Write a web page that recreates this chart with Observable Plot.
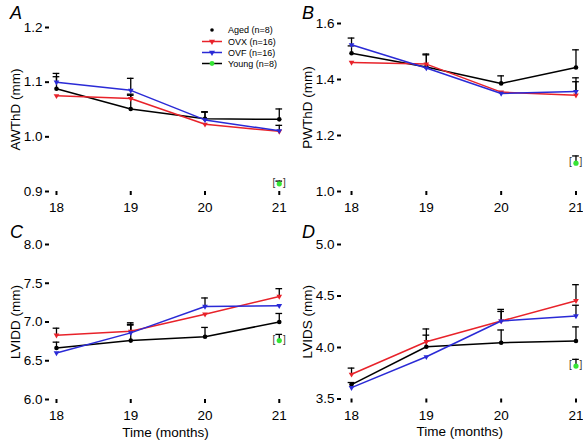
<!DOCTYPE html>
<html>
<head>
<meta charset="utf-8">
<script src="https://cdn.jsdelivr.net/npm/d3@7"></script>
<script src="https://cdn.jsdelivr.net/npm/@observablehq/plot@0.6"></script>
<style>
  html, body { margin: 0; padding: 0; background: #fff; }
  #root { position: relative; width: 583px; height: 442px; overflow: hidden; font-family: "Liberation Sans", Arial, sans-serif; }
  .panel { position: absolute; }
  .letter { position: absolute; font-style: italic; font-size: 18px; line-height: 1; color: #000; }
  #legend { position: absolute; left: 0; top: 0; }
</style>
</head>
<body>
<div id="root"></div>
<script>
// ---- data ----
const months = [18, 19, 20, 21];
const seriesNames = ["Aged (n=8)", "OVX (n=16)", "OVF (n=16)", "Young (n=8)"];
const seriesColors = ["#000000", "#e8222a", "#2a2ad6", "#35e535"];

// A: AWThD (mm)
const awthdAged = [1.088, 1.051, 1.033, 1.032];
const awthdAgedTop = [1.110, 1.076, 1.046, 1.051];
const awthdOVX = [1.075, 1.070, 1.023, 1.010];
const awthdOVXTop = [null, 1.078, null, null];
const awthdOVF = [1.100, 1.085, 1.031, 1.011];
const awthdOVFTop = [1.116, 1.107, 1.045, 1.021];
const awthdYoung = 0.914, awthdYoungTop = 0.919;
const awthdTicks = [0.9, 1.0, 1.1, 1.2];

// B: PWThD (mm)
const pwthdAged = [1.494, 1.445, 1.386, 1.443];
const pwthdAgedTop = [1.520, 1.488, 1.413, 1.506];
const pwthdOVX = [1.461, 1.455, 1.355, 1.344];
const pwthdOVXTop = [null, 1.491, null, 1.392];
const pwthdOVF = [1.524, 1.441, 1.350, 1.357];
const pwthdOVFTop = [1.548, null, null, 1.406];
const pwthdYoung = 1.101, pwthdYoungTop = 1.127;
const pwthdTicks = [1.0, 1.2, 1.4, 1.6];

// C: LVIDD (mm)
const lviddAged = [6.664, 6.76, 6.81, 7.00];
const lviddAgedTop = [6.74, 6.96, 6.93, 7.11];
const lviddOVX = [6.83, 6.88, 7.10, 7.33];
const lviddOVXTop = [6.92, 6.99, null, 7.43];
const lviddOVF = [6.60, 6.86, 7.20, 7.21];
const lviddOVFTop = [null, 6.97, 7.31, null];
const lviddYoung = 6.76, lviddYoungTop = 6.84;
const lviddTicks = [6.0, 6.5, 7.0, 7.5, 8.0];

// D: LVIDS (mm)
const lvidsAged = [3.64, 4.007, 4.046, 4.063];
const lvidsAgedTop = [3.66, 4.12, 4.17, 4.20];
const lvidsOVX = [3.74, 4.056, 4.257, 4.454];
const lvidsOVXTop = [3.80, 4.18, 4.37, 4.61];
const lvidsOVF = [3.61, 3.91, 4.257, 4.306];
const lvidsOVFTop = [null, null, 4.35, 4.41];
const lvidsYoung = 3.82, lvidsYoungTop = 3.885;
const lvidsTicks = [3.5, 4.0, 4.5, 5.0];

// ---- helpers ----
function rows(vals, tops) {
  return months.map((m, i) => ({x: m, y: vals[i], top: tops[i]}));
}
const fmt = d3.format(".1f");

function panel(cfg) {
  const aged = rows(cfg.aged, cfg.agedTop);
  const ovx = rows(cfg.ovx, cfg.ovxTop);
  const ovf = rows(cfg.ovf, cfg.ovfTop);
  const young = [{x: months[months.length - 1], y: cfg.young, top: cfg.youngTop}];
  const err = [...aged, ...ovx, ...ovf, ...young].filter(d => d.top != null);
  const capW = 0.045;
  const plot = Plot.plot({
    width: cfg.width,
    height: cfg.height,
    marginLeft: cfg.mL,
    marginRight: cfg.mR,
    marginTop: cfg.mT,
    marginBottom: cfg.mB,
    style: {fontFamily: "'Liberation Sans', Arial, sans-serif", fontSize: "13.5px", color: "#000", background: "transparent", overflow: "visible"},
    x: {domain: cfg.xDomain},
    y: {domain: [cfg.yTicks[0], cfg.yTicks[cfg.yTicks.length - 1]]},
    marks: [
      Plot.axisX({ticks: months, tickFormat: d => String(d), tickSize: 4, tickPadding: 7, line: true, strokeWidth: 2,
        label: cfg.xLabel, labelAnchor: "center", labelOffset: 37, labelArrow: false}),
      Plot.axisY({ticks: cfg.yTicks, tickFormat: fmt, tickSize: 4, tickPadding: 3, line: true, strokeWidth: 2,
        label: cfg.yLabel, labelAnchor: "center", labelOffset: cfg.labelOffset, labelArrow: false}),
      // error bars (upper only)
      Plot.ruleX(err, {x: "x", y1: "y", y2: "top", stroke: "#000", strokeWidth: 1.3}),
      Plot.ruleY(err, {y: "top", x1: d => d.x - capW, x2: d => d.x + capW, stroke: "#000", strokeWidth: 1.3}),
      // lines
      Plot.line(aged, {x: "x", y: "y", stroke: seriesColors[0], strokeWidth: 1.5}),
      Plot.dot(aged, {x: "x", y: "y", r: 2.3, fill: seriesColors[0]}),
      Plot.line(ovx, {x: "x", y: "y", stroke: seriesColors[1], strokeWidth: 1.5}),
      Plot.dot(ovx, {x: "x", y: "y", r: 2.1, symbol: "triangle", rotate: 180, fill: seriesColors[1]}),
      Plot.line(ovf, {x: "x", y: "y", stroke: seriesColors[2], strokeWidth: 1.5}),
      Plot.dot(ovf, {x: "x", y: "y", r: 2.1, symbol: "triangle", rotate: 180, fill: seriesColors[2]}),
      // young
      Plot.dot(young, {x: "x", y: "y", r: 2.6, fill: seriesColors[3]}),
      Plot.text(young, {x: "x", y: "y", text: () => "[", dx: -5.5, dy: -1, fontSize: 10, fill: "#333"}),
      Plot.text(young, {x: "x", y: "y", text: () => "]", dx: 5, dy: -1, fontSize: 10, fill: "#333"})
    ]
  });
  const div = document.createElement("div");
  div.className = "panel";
  div.style.left = cfg.left + "px";
  div.style.top = cfg.top + "px";
  div.appendChild(plot);
  document.getElementById("root").appendChild(div);
}

const xDomLeft = [17.906, 21.03];
const xDomRight = [17.866, 21.027];

panel({left: 0, top: 0, width: 290, height: 220, mL: 49, mR: 9, mT: 27, mB: 29, xDomain: xDomLeft,
  yTicks: awthdTicks, yLabel: "AWThD (mm)", xLabel: null, labelOffset: 39,
  aged: awthdAged, agedTop: awthdAgedTop, ovx: awthdOVX, ovxTop: awthdOVXTop, ovf: awthdOVF, ovfTop: awthdOVFTop,
  young: awthdYoung, youngTop: awthdYoungTop});
panel({left: 290, top: 0, width: 293, height: 220, mL: 51, mR: 5.5, mT: 23, mB: 29, xDomain: xDomRight,
  yTicks: pwthdTicks, yLabel: "PWThD (mm)", xLabel: null, labelOffset: 39,
  aged: pwthdAged, agedTop: pwthdAgedTop, ovx: pwthdOVX, ovxTop: pwthdOVXTop, ovf: pwthdOVF, ovfTop: pwthdOVFTop,
  young: pwthdYoung, youngTop: pwthdYoungTop});
panel({left: 0, top: 220, width: 290, height: 222, mL: 49, mR: 9, mT: 24, mB: 43, xDomain: xDomLeft,
  yTicks: lviddTicks, yLabel: "LVIDD (mm)", xLabel: "Time (months)", labelOffset: 39,
  aged: lviddAged, agedTop: lviddAgedTop, ovx: lviddOVX, ovxTop: lviddOVXTop, ovf: lviddOVF, ovfTop: lviddOVFTop,
  young: lviddYoung, youngTop: lviddYoungTop});
panel({left: 290, top: 220, width: 293, height: 222, mL: 51, mR: 5.5, mT: 24, mB: 43.5, xDomain: xDomRight,
  yTicks: lvidsTicks, yLabel: "LVIDS (mm)", xLabel: "Time (months)", labelOffset: 39,
  aged: lvidsAged, agedTop: lvidsAgedTop, ovx: lvidsOVX, ovxTop: lvidsOVXTop, ovf: lvidsOVF, ovfTop: lvidsOVFTop,
  young: lvidsYoung, youngTop: lvidsYoungTop});

// panel letters
[["A", 10, 4], ["B", 302, 4], ["C", 10, 223], ["D", 302, 223]].forEach(([t, l, tp]) => {
  const el = document.createElement("div");
  el.className = "letter";
  el.textContent = t;
  el.style.left = l + "px";
  el.style.top = tp + "px";
  document.getElementById("root").appendChild(el);
});

// legend (inside panel A, top right)
const leg = d3.select("#root").append("svg").attr("id", "legend")
  .attr("width", 583).attr("height", 442).style("pointer-events", "none");
const legRowY = [30, 41.5, 52.5, 63.5];
seriesNames.forEach((name, i) => {
  const g = leg.append("g").attr("transform", `translate(0,${legRowY[i]})`);
  if (i > 0) {
    g.append("line").attr("x1", 202).attr("x2", 222).attr("y1", 0).attr("y2", 0)
      .attr("stroke", i === 3 ? "#000" : seriesColors[i]).attr("stroke-width", 1.5);
  }
  if (i === 1 || i === 2) {
    g.append("path").attr("d", d3.symbol(d3.symbolTriangle, 16)()).attr("transform", "translate(212,0) rotate(180)")
      .attr("fill", seriesColors[i]);
  } else {
    g.append("circle").attr("cx", 212).attr("cy", 0).attr("r", i === 0 ? 1.8 : 2.4).attr("fill", seriesColors[i]);
  }
  g.append("text").attr("x", 228).attr("y", 0).attr("dy", "0.35em")
    .attr("font-size", 9).attr("font-family", "'Liberation Sans', Arial, sans-serif").attr("fill", "#000").text(name);
});
</script>
</body>
</html>
